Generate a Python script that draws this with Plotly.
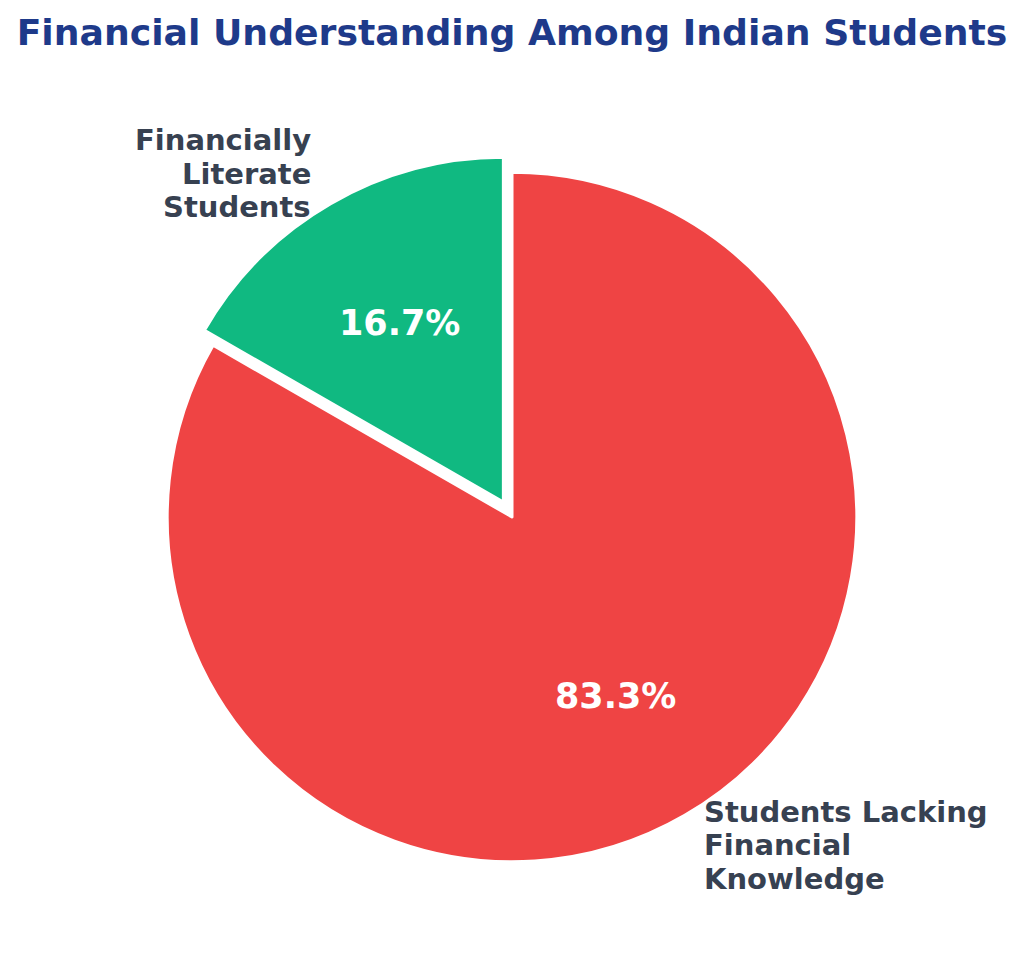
import numpy as np
import plotly.graph_objects as go

# data
categories = ["Financially Literate Students", "Students Lacking Financial Knowledge"]
label_lines = [["Financially", "Literate", "Students"],
               ["Students Lacking", "Financial", "Knowledge"]]
values = [16.7, 83.3]
colors = ["#10B981", "#EF4444"]
pulls = [0.05, 0.0]

# page body has an 8px margin, so the figure is a bit smaller than the window
W, H = 1016, 955
margin = dict(l=142, r=150, t=147, b=84)
font_family = "DejaVu Sans"

fracs = np.array(values) / np.sum(values)

# first slice ends at 12 o'clock, going counterclockwise like matplotlib startangle=90
fig = go.Figure(go.Pie(
    labels=categories,
    values=values,
    sort=False,
    direction="clockwise",
    rotation=-fracs[0] * 360,
    pull=pulls,
    marker=dict(colors=colors, line=dict(color="white", width=3)),
    textinfo="none",
    showlegend=False,
    hoverinfo="label+percent",
))

# labels and percentages, placed like matplotlib (labeldistance=1.1, pctdistance=0.6)
plot_w = W - margin["l"] - margin["r"]
plot_h = H - margin["t"] - margin["b"]
r_px = min(plot_w, plot_h) / (2 + 2 * max(pulls))
start = 90.0
for frac, lines, p in zip(fracs, label_lines, pulls):
    mid = np.deg2rad(start + frac * 360 / 2)
    start += frac * 360
    c, s = np.cos(mid), np.sin(mid)

    # percentage inside the slice
    d = (p + 0.6) * r_px
    fig.add_annotation(
        x=0.5 + d * c / plot_w, y=0.5 + d * s / plot_h,
        xref="paper", yref="paper", showarrow=False,
        text=f"{frac * 100:.1f}%",
        xanchor="center", yanchor="middle",
        font=dict(family=font_family, size=35, color="white", weight="bold"),
    )

    # category label outside
    d = (p + 1.1) * r_px
    right = c > 0
    line_h = 29 * 1.15
    n = len(lines)
    for i, ln in enumerate(lines):
        fig.add_annotation(
            x=0.5 + d * c / plot_w, y=0.5 + d * s / plot_h,
            xref="paper", yref="paper", showarrow=False,
            text=ln,
            xanchor="left" if right else "right",
            yanchor="middle",
            yshift=-(i - (n - 1) / 2) * line_h,
            font=dict(family=font_family, size=29, color="#374151", weight="bold"),
        )

fig.update_layout(
    width=W, height=H,
    title=dict(
        text="Financial Understanding Among Indian Students",
        x=504 / W, xanchor="center",
        y=1 - 24 / H, yanchor="middle", yref="container",
        font=dict(family=font_family, size=36.2, color="#1E3A8A", weight="bold"),
    ),
    margin=margin,
    paper_bgcolor="white",
    plot_bgcolor="white",
)

fig.write_html("out.html")
